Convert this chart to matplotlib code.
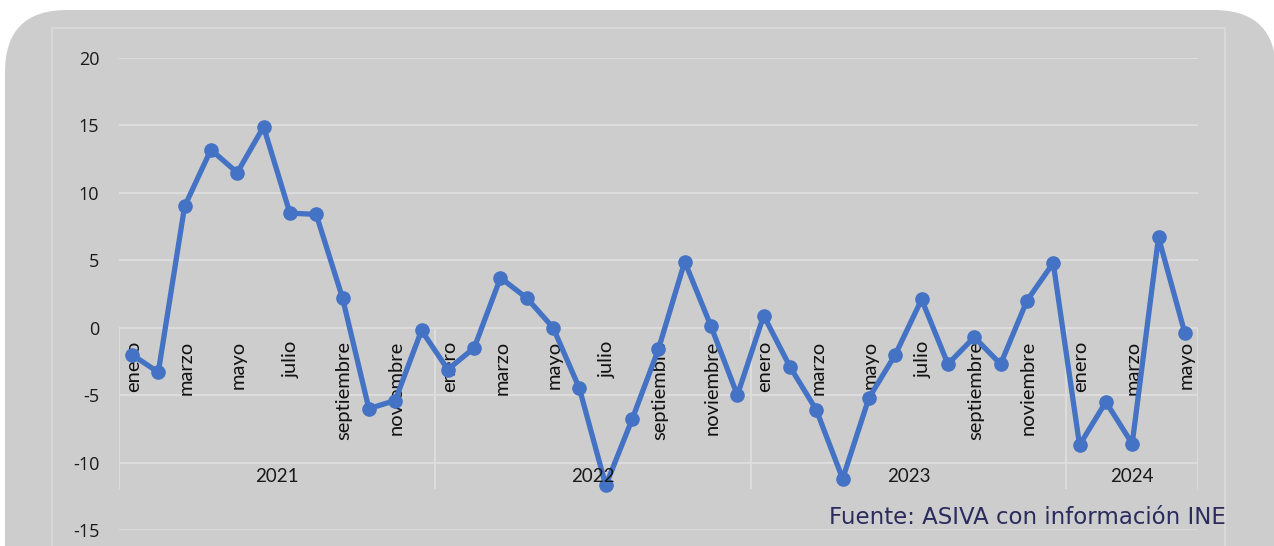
import matplotlib
matplotlib.use("Agg")
import matplotlib.pyplot as plt
from matplotlib.patches import FancyBboxPatch
import numpy as np

# ---- data ----
years = ["2021", "2022", "2023", "2024"]
months_per_year = [12, 12, 12, 5]
month_names = ["enero", "febrero", "marzo", "abril", "mayo", "junio", "julio",
               "agosto", "septiembre", "octubre", "noviembre", "diciembre"]
values_2021 = [-2.0, -3.3, 9.0, 13.2, 11.5, 14.9, 8.5, 8.4, 2.2, -6.0, -5.4, -0.2]
values_2022 = [-3.1, -1.5, 3.7, 2.2, 0.0, -4.5, -11.7, -6.8, -1.6, 4.9, 0.1, -5.0]
values_2023 = [0.9, -2.9, -6.1, -11.2, -5.2, -2.0, 2.1, -2.7, -0.7, -2.7, 2.0, 4.8]
values_2024 = [-8.7, -5.5, -8.6, 6.7, -0.4]
y_ticks = [-15, -10, -5, 0, 5, 10, 15, 20]
source_text = "Fuente: ASIVA con información INE"

values = values_2021 + values_2022 + values_2023 + values_2024
labels = []
for n in months_per_year:
    labels += month_names[:n]
x = np.arange(len(values))

W, H = 1274, 546
fig = plt.figure(figsize=(W / 100, H / 100), dpi=100, facecolor="white")

# background (pixel coordinates)
bg = fig.add_axes([0, 0, 1, 1], zorder=0)
bg.set_xlim(0, W)
bg.set_ylim(H, 0)
bg.axis("off")
bg.add_patch(FancyBboxPatch((5 + 62, 10 + 62), W - 5 - 124 + 2, 600 - 124,
                            boxstyle="round,pad=62", fc="#cdcdcd", ec="none"))
bg.plot([52, 52, 1225, 1225], [H + 5, 28, 28, H + 5], color="#d8d8d8", lw=1.5)
bg.text(1226, 517, source_text, ha="right", va="center", fontsize=16.5,
        family="DejaVu Sans", color="#2b2b5e")

# main chart
ax = fig.add_axes([118.8 / W, 1 - 530 / H, (1198 - 118.8) / W, (530 - 58) / H], zorder=1)
ax.set_facecolor("none")
ax.set_xlim(-0.5, len(values) - 0.5)
ax.set_ylim(-15, 20)
ax.set_yticks(y_ticks)
ax.set_yticklabels([str(t) for t in y_ticks], family="Open Sans", fontsize=13, color="#1a1a1a")
ax.tick_params(axis="y", length=0, pad=14)
ax.set_xticks([])
for s in ax.spines.values():
    s.set_visible(False)
for t in y_ticks:
    ax.axhline(t, color="#dcdcdc", lw=1.5, zorder=1)

# year separators and labels
bounds = np.concatenate([[0], np.cumsum(months_per_year)]) - 0.5
ax.vlines(bounds, -11.95, 0, color="#dcdcdc", lw=1.5, zorder=1)
for i, yr in enumerate(years):
    ax.text((bounds[i] + bounds[i + 1]) / 2, -11.0, yr, ha="center", va="center",
            fontsize=13.5, family="Lato", color="#1a1a1a", zorder=4)

# month labels (odd months)
for xi, lab in zip(x, labels):
    if month_names.index(lab) % 2 == 0:
        ax.text(xi + 0.05, -1.0, lab, rotation=90, ha="center", va="top",
                fontsize=14.5, family="Lato", color="#111111", zorder=2)

ax.plot(x, values, color="#4472c4", lw=3.8, marker="o", ms=9.5, zorder=3,
        solid_joinstyle="round")

fig.savefig("out.png", dpi=100, facecolor="white")
